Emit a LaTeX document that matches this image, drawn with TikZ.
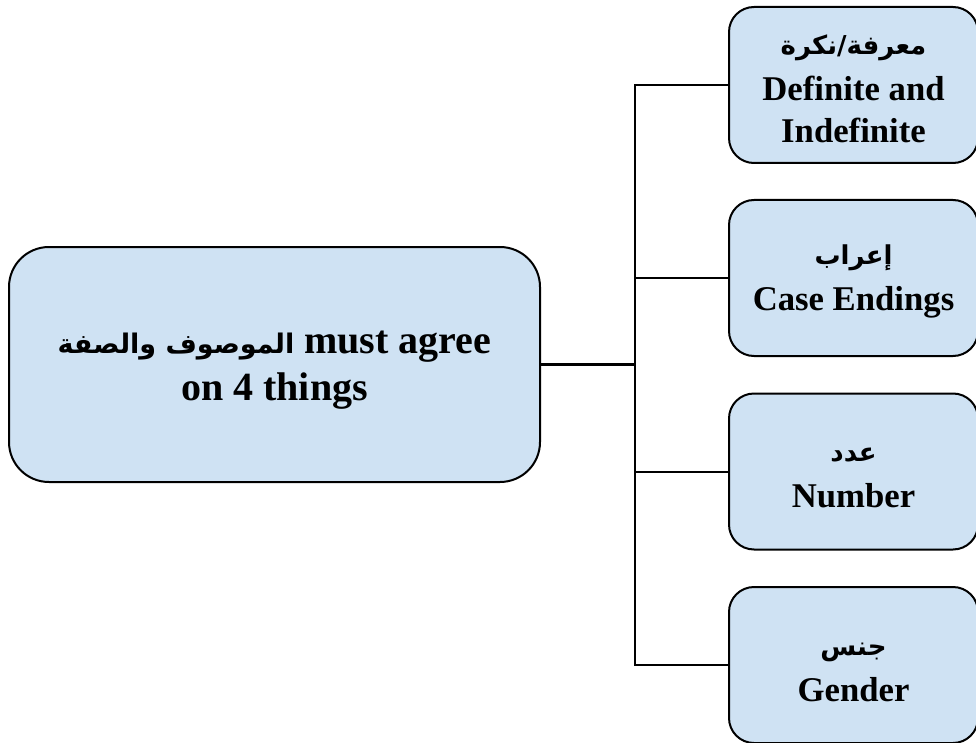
\documentclass[tikz,border=0pt]{standalone}
\usepackage{fontspec}
\setmainfont{Liberation Serif}
\newfontfamily\arabicfont[Script=Arabic]{DejaVu Sans}
\TeXXeTstate=1
\definecolor{boxfill}{HTML}{CFE2F3}
% bold Arabic face at a given size
\newcommand\arabicsize[1]{\arabicfont\bfseries\fontsize{#1}{#1}\selectfont}
\tikzset{
  topicbox/.style={draw=black, line width=2pt, fill=boxfill, rounded corners=40pt,
    minimum width=531pt, minimum height=235pt, align=center, inner sep=0pt,
    font=\bfseries\fontsize{40}{47}\selectfont},
  itembox/.style={draw=black, line width=2pt, fill=boxfill, rounded corners=25pt,
    minimum width=249pt, minimum height=156pt, align=center, inner sep=0pt,
    font=\bfseries\fontsize{34.7}{42}\selectfont},
  link/.style={draw=black, line width=2pt}
}
\begin{document}
\begin{tikzpicture}[x=1pt, y=-1pt]
  \useasboundingbox (0,0) rectangle (976,743);
  % central topic
  \node[topicbox] (main) at (274.5,364.5)
    {\rule{0pt}{33pt}{\arabicsize{27}\beginR الموصوف والصفة\endR} must agree\\ on 4 things};
  % the four points of agreement
  \node[itembox] (def) at (853.5,85)
    {\rule{0pt}{27pt}{\arabicsize{26}\beginR معرفة/نكرة\endR}\\[4pt] Definite and\\ Indefinite};
  \node[itembox] (case) at (853.5,278)
    {\rule{0pt}{27pt}{\arabicsize{26}\beginR إعراب\endR}\\[4pt] Case Endings};
  \node[itembox] (num) at (853.5,471.5)
    {\rule{0pt}{27pt}{\arabicsize{26}\beginR عدد\endR}\\[4pt] Number};
  \node[itembox] (gen) at (853.5,665)
    {\rule{0pt}{27pt}{\arabicsize{26}\beginR جنس\endR}\\[4pt] Gender};
  % tree connectors
  \coordinate (fork) at (635,364.5);
  \draw[link, line width=2.5pt] (main.east) -- (fork);
  \draw[link] (fork) |- (def.west);
  \draw[link] (fork) |- (case.west);
  \draw[link] (fork) |- (num.west);
  \draw[link] (fork) |- (gen.west);
\end{tikzpicture}
\end{document}
